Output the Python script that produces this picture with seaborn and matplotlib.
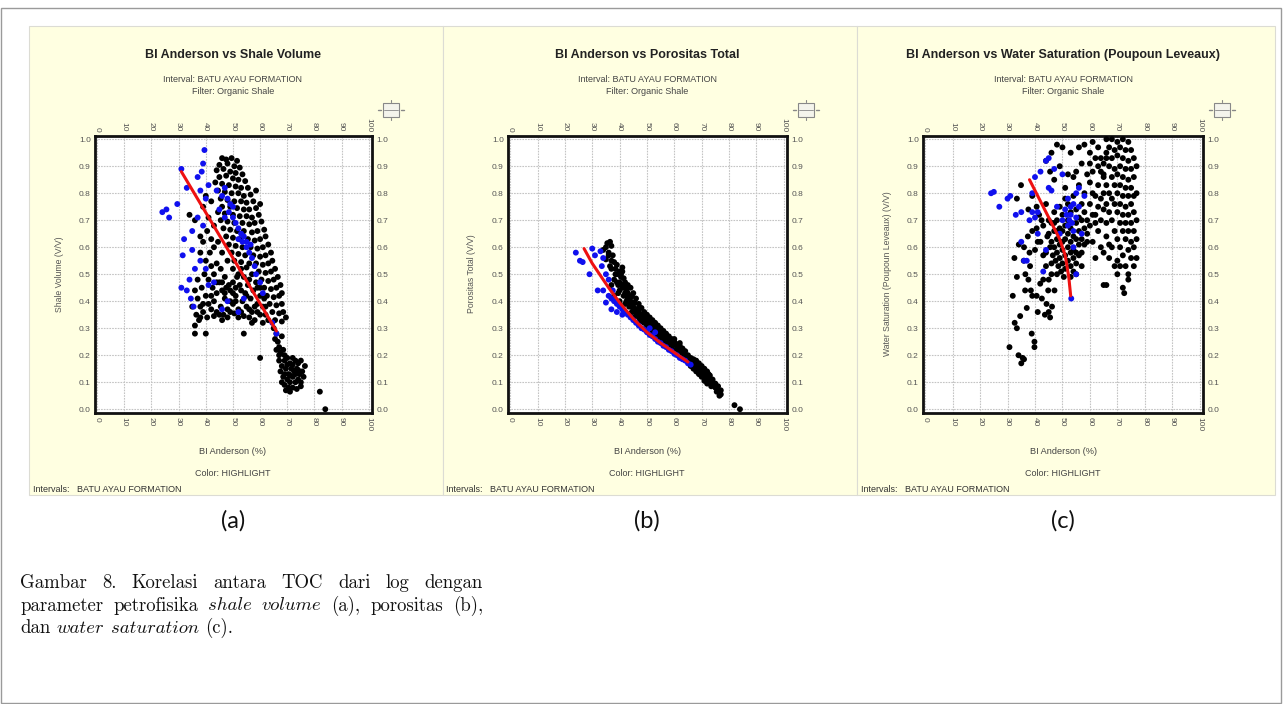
import pandas as pd
import matplotlib
matplotlib.use("Agg")
import matplotlib.pyplot as plt
import seaborn as sns
from matplotlib.patches import Rectangle
from matplotlib.lines import Line2D

# ---- data (x = BI Anderson %, y = V/V) ----
a_black = [
    (46, 0.93), (47.5, 0.925), (49.5, 0.93), (51.5, 0.92), (45, 0.905), (48, 0.91), (50.5, 0.90), (52.5, 0.895),
    (44, 0.885), (46.5, 0.89), (49, 0.88), (51, 0.875), (53.5, 0.87), (45, 0.86), (47.5, 0.865), (50, 0.855),
    (52, 0.85), (54.5, 0.845), (43.5, 0.84), (46, 0.835), (48.5, 0.83), (51, 0.825), (53, 0.82), (55.5, 0.82),
    (44.5, 0.81), (47, 0.805), (49.5, 0.80), (52, 0.80), (54, 0.79), (56.5, 0.795), (58.5, 0.81), (45.5, 0.78),
    (48, 0.775), (50.5, 0.77), (53, 0.77), (55, 0.765), (57.5, 0.77), (46, 0.75), (49, 0.75), (51.5, 0.745),
    (54, 0.74), (56, 0.74), (58.5, 0.745), (60, 0.76), (44.5, 0.73), (47, 0.725), (50, 0.72), (52.5, 0.715),
    (55, 0.715), (57, 0.71), (59.5, 0.72), (45.5, 0.70), (48, 0.695), (50.5, 0.69), (53.5, 0.69), (56, 0.685),
    (58, 0.69), (60.5, 0.695), (46.5, 0.67), (49, 0.665), (51.5, 0.66), (54, 0.66), (57, 0.655), (59, 0.66),
    (61.5, 0.665), (47.5, 0.64), (50, 0.635), (52.5, 0.63), (55.5, 0.63), (58, 0.625), (60, 0.63), (62, 0.64),
    (48.5, 0.61), (51, 0.605), (53.5, 0.60), (56.5, 0.60), (59, 0.595), (61, 0.60), (63, 0.61), (49.5, 0.58),
    (52, 0.575), (54.5, 0.57), (57.5, 0.57), (60, 0.565), (62, 0.57), (64, 0.58), (50.5, 0.55), (53, 0.545),
    (56, 0.54), (58.5, 0.54), (61, 0.535), (63, 0.54), (64.5, 0.55), (59.5, 0.51), (62, 0.505), (64, 0.51),
    (65.5, 0.52), (60.5, 0.48), (63, 0.475), (65, 0.48), (66.5, 0.49), (61.5, 0.45), (64, 0.445), (66, 0.45),
    (67.5, 0.46), (62.5, 0.42), (65, 0.415), (67, 0.42), (68, 0.43), (63.5, 0.39), (66, 0.385), (68, 0.39),
    (64.5, 0.36), (67, 0.355), (68.5, 0.36), (65.5, 0.33), (68, 0.325), (69.5, 0.34),
    (36, 0.44), (37, 0.41), (38, 0.38), (36.5, 0.35), (37.5, 0.33), (36, 0.31), (40, 0.42), (41, 0.39),
    (39, 0.36), (40.5, 0.34), (42, 0.37), (43, 0.40), (44, 0.43), (42.5, 0.45), (41, 0.48), (43, 0.50),
    (45, 0.47), (46, 0.44), (47, 0.41), (45.5, 0.38), (44, 0.36), (46.5, 0.35), (48, 0.37), (49, 0.40),
    (50, 0.43), (48.5, 0.46), (47, 0.49), (45.5, 0.52), (44, 0.54), (42, 0.53), (40, 0.55), (41.5, 0.58),
    (43, 0.60), (39, 0.62), (38, 0.58), (40.5, 0.66), (42, 0.63), (44.5, 0.62), (46, 0.58), (48, 0.55),
    (50, 0.52), (51.5, 0.49), (52.5, 0.46), (51, 0.42), (50, 0.39), (52, 0.37), (53.5, 0.40), (54.5, 0.43),
    (55.5, 0.46), (54, 0.49), (53, 0.52), (55, 0.38), (56.5, 0.41), (57.5, 0.44), (58.5, 0.47), (57, 0.36),
    (59, 0.39), (60, 0.42), (61, 0.38), (60, 0.35), (62, 0.35), (58, 0.33), (56, 0.34), (54, 0.345),
    (52, 0.34), (50.5, 0.355), (48, 0.34), (46, 0.33), (43, 0.345), (49, 0.44), (47.5, 0.45), (56, 0.48),
    (53, 0.44), (51, 0.45), (57, 0.50), (55, 0.525), (59, 0.45), (37, 0.48), (38.5, 0.45), (39.5, 0.50),
    (35, 0.38), (36, 0.28), (40, 0.28), (54, 0.28), (57, 0.32), (61, 0.32), (63, 0.33), (34, 0.72),
    (36, 0.70), (38, 0.64), (41, 0.71), (43, 0.68), (39, 0.75), (42, 0.77), (40, 0.79),
    (45, 0.35), (49, 0.36), (53, 0.36), (51, 0.40), (47, 0.43), (55, 0.42), (58, 0.38), (59, 0.36),
    (62, 0.38), (56, 0.37), (50, 0.47), (52, 0.50), (46, 0.47), (44, 0.47), (42, 0.42), (39, 0.39),
    (38, 0.34), (60, 0.45), (61.5, 0.41),
    (65, 0.30), (66, 0.28), (65.5, 0.26), (66.5, 0.25), (67, 0.23), (66, 0.22), (67.5, 0.21), (68, 0.27),
    (68.5, 0.22), (69, 0.20), (60, 0.19), (67, 0.18), (68, 0.16), (69, 0.18), (70, 0.19), (71, 0.17),
    (72, 0.19), (73, 0.18), (74, 0.17), (75, 0.18), (67.5, 0.14), (68.5, 0.12), (69.5, 0.15), (70.5, 0.13),
    (71.5, 0.15), (72.5, 0.14), (73.5, 0.15), (74.5, 0.13), (75.5, 0.14), (68, 0.10), (69, 0.09), (70, 0.11),
    (71, 0.10), (72, 0.12), (73, 0.10), (74, 0.11), (75, 0.10), (69.5, 0.07), (70.5, 0.08), (72, 0.08),
    (73.5, 0.075), (75, 0.085), (71, 0.065), (69, 0.13), (70, 0.165), (72, 0.165), (73, 0.13), (74, 0.145),
    (71, 0.125), (76, 0.12), (67, 0.20), (82, 0.065), (84, 0.0), (76.5, 0.16),
]
a_blue = [
    (39.5, 0.96), (31, 0.89), (38.5, 0.88), (39, 0.91), (24, 0.73), (25.5, 0.74), (26.5, 0.71), (29.5, 0.76),
    (35, 0.66), (32, 0.63), (31.5, 0.57), (35, 0.59), (31, 0.45), (34.5, 0.41), (35.5, 0.38), (33, 0.44),
    (36, 0.52), (34, 0.48), (33, 0.82), (37, 0.86), (38, 0.81), (40, 0.78), (41, 0.83), (37, 0.71),
    (39, 0.68), (38, 0.55), (40, 0.52), (41, 0.46), (44, 0.81), (46, 0.79), (47, 0.82), (48, 0.78),
    (49, 0.76), (48.5, 0.73), (50, 0.71), (51, 0.69), (52, 0.67), (53, 0.65), (53.5, 0.62), (55, 0.60),
    (54, 0.64), (56, 0.58), (57, 0.56), (58, 0.53), (58.5, 0.50), (60, 0.47), (50, 0.75), (47, 0.71),
    (45, 0.74), (52, 0.63), (48, 0.40), (52, 0.36), (54, 0.41), (61, 0.43), (66, 0.28), (64.5, 0.32),
    (46, 0.37), (43, 0.47), (55, 0.62), (56.5, 0.61),
]
a_fit_x = [31, 66]
a_fit_y = [0.88, 0.29]

b_black = [
    (35.5, 0.615), (35, 0.60), (34, 0.59), (36, 0.57), (35, 0.555), (37, 0.55), (36.5, 0.53), (38.5, 0.52),
    (39, 0.50), (38, 0.48), (40, 0.47), (39.5, 0.46), (41, 0.45), (40, 0.44), (42, 0.43), (41.5, 0.42),
    (43, 0.41), (42.5, 0.40), (44, 0.39), (43.5, 0.38), (45, 0.37), (44.5, 0.36), (46, 0.355), (47, 0.34),
    (46.5, 0.35), (48, 0.33), (49, 0.32), (48.5, 0.325), (50, 0.31), (51, 0.30), (50.5, 0.305), (52, 0.29),
    (53, 0.28), (52.5, 0.285), (54, 0.27), (55, 0.26), (54.5, 0.265), (56, 0.25), (57, 0.245), (58, 0.235),
    (57.5, 0.24), (59, 0.225), (60, 0.215), (59.5, 0.22), (61, 0.21), (62, 0.20), (61.5, 0.205), (63, 0.195),
    (64, 0.19), (63.5, 0.185), (65, 0.18), (66, 0.175), (65.5, 0.17), (67, 0.17), (68, 0.16), (67.5, 0.155),
    (69, 0.15), (70, 0.14), (69.5, 0.13), (71, 0.125), (72, 0.115), (71.5, 0.11), (73, 0.10), (74, 0.09),
    (73.5, 0.085), (75, 0.08), (76, 0.07), (75.5, 0.065), (77, 0.055), (76.5, 0.05), (66, 0.16), (67, 0.15),
    (68, 0.14), (69, 0.13), (70, 0.12), (71, 0.105), (72, 0.095), (66.5, 0.185), (67.5, 0.18), (68.5, 0.17),
    (69.5, 0.16), (70.5, 0.15), (71.5, 0.14), (72.5, 0.13), (60, 0.245), (56, 0.27), (52, 0.31), (48, 0.35),
    (44, 0.40), (40.5, 0.49), (41, 0.51), (39.5, 0.43), (37, 0.46), (45, 0.38), (47, 0.36), (49, 0.34),
    (51, 0.32), (53, 0.30), (55, 0.28), (57, 0.265), (59, 0.245), (61, 0.225), (63, 0.21), (64, 0.20),
    (58, 0.25), (62, 0.215), (54, 0.29), (50, 0.33), (46, 0.37), (42, 0.45), (43, 0.43), (44.5, 0.42),
    (40, 0.40), (42, 0.39), (38, 0.42), (45, 0.34), (47, 0.32), (60, 0.24), (82, 0.015), (84, 0.0),
    (36.5, 0.62), (37, 0.605), (36, 0.58), (37.5, 0.57), (38, 0.545), (37, 0.52), (39, 0.535), (40, 0.51),
    (41, 0.525), (40.5, 0.50), (41.5, 0.485), (42, 0.47), (43, 0.46), (42.5, 0.44), (44, 0.45), (45, 0.43),
    (44, 0.415), (46, 0.41), (45.5, 0.395), (47, 0.39), (48, 0.375), (49, 0.36), (50, 0.35), (51, 0.34),
    (52, 0.33), (53, 0.32), (54, 0.31), (55, 0.30), (56, 0.29), (57, 0.28), (58, 0.27), (59, 0.26),
    (60, 0.25), (61, 0.24), (62, 0.235), (63, 0.225), (64, 0.215), (60, 0.26), (62, 0.245), (38.5, 0.50),
    (39, 0.47), (41, 0.46), (43, 0.42), (47, 0.375), (49, 0.35), (51, 0.33), (53, 0.31), (55, 0.29),
    (57, 0.275), (59, 0.255), (61, 0.235), (63, 0.22), (65, 0.20), (66, 0.19), (67, 0.185), (68, 0.18),
    (69, 0.17), (70, 0.16), (71, 0.15), (72, 0.14), (73, 0.125), (74, 0.11), (75, 0.095), (76, 0.085),
    (77, 0.07), (73, 0.115), (74, 0.10), (75, 0.09),
]
b_blue = [
    (24, 0.58), (25.5, 0.55), (26.5, 0.545), (29, 0.50), (30, 0.595), (31, 0.57), (33, 0.585), (34, 0.56),
    (33.5, 0.53), (35, 0.50), (32, 0.44), (34, 0.44), (36, 0.42), (37, 0.41), (38, 0.40), (39, 0.39),
    (40, 0.38), (41, 0.37), (42, 0.36), (43, 0.35), (44, 0.34), (45, 0.33), (46, 0.32), (47, 0.31),
    (48, 0.30), (49, 0.295), (50, 0.285), (51, 0.275), (52, 0.27), (53, 0.26), (54, 0.25), (55, 0.245),
    (56, 0.235), (57, 0.23), (58, 0.22), (59, 0.215), (60, 0.205), (61, 0.20), (62, 0.19), (63, 0.185),
    (64, 0.18), (65, 0.17), (66, 0.165), (36, 0.48), (37, 0.37), (39, 0.36), (41, 0.35), (37.5, 0.44),
    (35, 0.395), (53, 0.285), (51, 0.30),
]
b_fit_x = [27, 30, 33, 36, 40, 45, 50, 55, 60, 65]
b_fit_y = [0.595, 0.54, 0.495, 0.45, 0.395, 0.335, 0.285, 0.245, 0.21, 0.175]

c_black = [
    (30.7, 0.23), (35, 0.17), (34, 0.20), (35.5, 0.19), (36, 0.185), (32.6, 0.32), (33.4, 0.30), (31.9, 0.42),
    (33.4, 0.49), (34.6, 0.345), (38.8, 0.28), (39.8, 0.25), (39.8, 0.23), (37, 0.375), (36.4, 0.44),
    (37.6, 0.48), (40.6, 0.42), (41, 0.36), (43.6, 0.35), (44.2, 0.39), (44.8, 0.44), (41.9, 0.465),
    (46.2, 0.38), (47.1, 0.44), (34.1, 0.61), (35.9, 0.55), (38.2, 0.53), (40, 0.59), (37.4, 0.64),
    (40.6, 0.67), (42.4, 0.70), (34.9, 0.83), (37.6, 0.74), (33.4, 0.78), (40.6, 0.75), (36, 0.60),
    (38, 0.58), (39, 0.66), (43, 0.57), (42, 0.62), (44, 0.53), (45, 0.36), (45.5, 0.34), (42.5, 0.41),
    (39, 0.42), (36.5, 0.50), (38.5, 0.44), (43, 0.48), (46, 0.50), (45, 0.48), (39, 0.79), (41.5, 0.72),
    (44, 0.76), (43, 0.68), (41, 0.62), (32.5, 0.56), (44, 0.92), (46, 0.95), (48, 0.98), (45.5, 0.88),
    (49, 0.90), (47, 0.85),
    (45, 0.65), (46, 0.62), (47, 0.60), (48, 0.58), (49, 0.56), (50, 0.54), (51, 0.52), (46.5, 0.57),
    (47.5, 0.55), (48.5, 0.53), (49.5, 0.51), (50.5, 0.49), (45.5, 0.60), (47, 0.66), (48, 0.63), (49, 0.61),
    (50, 0.59), (51, 0.57), (52, 0.55), (53, 0.53), (46, 0.69), (48, 0.70), (50, 0.66), (51, 0.63),
    (52, 0.60), (53, 0.58), (54, 0.56), (55, 0.54), (54, 0.51), (53, 0.49), (55, 0.58), (56, 0.61),
    (54, 0.64), (53, 0.67), (52, 0.70), (50, 0.72), (49, 0.75), (51, 0.78), (53, 0.73), (55, 0.69),
    (56, 0.66), (57, 0.63), (56, 0.57), (55, 0.50), (48, 0.50), (46, 0.54), (44, 0.58), (44.5, 0.64),
    (45, 0.70), (47, 0.73), (52, 0.76), (54, 0.79), (55, 0.74), (57, 0.70), (58, 0.67), (57, 0.58),
    (58, 0.61), (49, 0.67), (51, 0.68), (53, 0.62), (54, 0.59), (52, 0.65), (50, 0.62), (48, 0.66),
    (47, 0.69), (55, 0.63), (56, 0.71), (58, 0.73), (59, 0.70), (57, 0.76), (58, 0.80), (56, 0.83),
    (54, 0.86), (55, 0.88), (57, 0.91), (59, 0.87), (60, 0.84), (61, 0.80), (60, 0.76), (61, 0.72),
    (59, 0.65), (60, 0.68), (62, 0.69), (63, 0.75), (62, 0.79), (63, 0.83), (61, 0.88), (62, 0.93),
    (60, 0.95), (58, 0.98), (61, 0.99), (63, 0.97), (64, 0.93), (64, 0.88), (65, 0.86), (63, 0.90),
    (65, 0.91), (66, 0.95), (56, 0.97), (53, 0.95), (50, 0.97), (60, 0.91), (62, 0.72), (64, 0.70),
    (63, 0.66), (61, 0.62), (65, 0.58), (67, 0.61), (62, 0.56), (66, 0.46), (59, 0.62), (57, 0.53),
    (52, 0.87), (51, 0.82),
    (66, 1.0), (68, 1.0), (70, 0.99), (72, 1.0), (74, 0.99), (67, 0.97), (69, 0.96), (71, 0.97),
    (73, 0.96), (75, 0.96), (66, 0.93), (68, 0.93), (70, 0.94), (72, 0.93), (74, 0.92), (76, 0.93),
    (67, 0.90), (69, 0.89), (71, 0.90), (73, 0.89), (75, 0.89), (65, 0.87), (68, 0.86), (70, 0.87),
    (72, 0.86), (74, 0.85), (76, 0.86), (66, 0.83), (69, 0.83), (71, 0.83), (73, 0.82), (75, 0.82),
    (67, 0.80), (68, 0.78), (70, 0.80), (72, 0.79), (74, 0.79), (76, 0.79), (66, 0.76), (69, 0.76),
    (71, 0.76), (73, 0.75), (75, 0.76), (67, 0.73), (70, 0.73), (72, 0.72), (74, 0.72), (76, 0.73),
    (68, 0.70), (71, 0.69), (73, 0.69), (75, 0.69), (69, 0.66), (72, 0.66), (74, 0.66), (76, 0.66),
    (70, 0.63), (73, 0.63), (75, 0.62), (71, 0.60), (74, 0.59), (76, 0.60), (72, 0.57), (75, 0.56),
    (77, 0.56), (70, 0.55), (73, 0.53), (74, 0.50), (71, 0.53), (69, 0.53), (70, 0.50), (74, 0.48),
    (72, 0.45), (72.5, 0.43), (65, 0.46), (68, 0.60), (67, 0.56), (66, 0.64), (64, 0.60), (77, 0.70),
    (77, 0.80), (77, 0.90), (65, 0.80), (64, 0.78), (65, 0.74), (66, 0.69), (77, 0.63), (76, 0.53),
]
c_blue = [
    (24, 0.80), (25, 0.805), (27, 0.75), (30, 0.78), (31, 0.79), (33, 0.72), (35, 0.73), (35, 0.62),
    (36, 0.55), (37, 0.55), (38, 0.70), (39, 0.80), (40, 0.86), (40, 0.71), (41, 0.65), (42, 0.88),
    (44, 0.92), (45, 0.93), (45, 0.82), (46, 0.81), (47, 0.89), (48, 0.75), (50, 0.87), (50, 0.70),
    (51, 0.74), (52, 0.68), (52, 0.78), (53, 0.72), (54, 0.66), (54, 0.60), (55, 0.80), (56, 0.75),
    (57, 0.65), (55, 0.50), (53.2, 0.41), (43, 0.51), (44, 0.59), (49, 0.65), (56, 0.82), (58, 0.79),
    (54, 0.76), (52.5, 0.70), (53.5, 0.69), (51.5, 0.72), (55, 0.71), (53, 0.75), (41, 0.73), (39, 0.73),
]
c_fit_x = [38, 41, 43.5, 46, 49, 51, 52.3, 53]
c_fit_y = [0.85, 0.79, 0.74, 0.69, 0.63, 0.57, 0.49, 0.42]

titles = ["BI Anderson vs Shale Volume", "BI Anderson vs Porositas Total",
          "BI Anderson vs Water Saturation (Poupoun Leveaux)"]
ylabels = ["Shale Volume (V/V)", "Porositas Total (V/V)", "Water Saturation (Poupoun Leveaux) (V/V)"]
panel_tags = ["(a)", "(b)", "(c)"]
x_ticks = [0, 10, 20, 30, 40, 50, 60, 70, 80, 90, 100]
y_ticks = [0.0, 0.1, 0.2, 0.3, 0.4, 0.5, 0.6, 0.7, 0.8, 0.9, 1.0]

W, H = 1283, 704


def fx(px):
    return px / W


def fy(py):
    return 1 - py / H


sns.set_style("white")
plt.rcParams['font.family'] = ['Liberation Sans', 'DejaVu Sans']

fig = plt.figure(figsize=(W / 100, H / 100), dpi=100)
fig.patch.set_facecolor("white")

# outer frame of the page and the cream plot panels (behind the axes)
fig.add_artist(Rectangle((fx(1), fy(703)), fx(1280), 695 / H, transform=fig.transFigure,
                         facecolor="none", edgecolor="#9a9a9a", lw=1.0, zorder=-5))
for left, right in [(29, 443), (443, 857), (857, 1275)]:
    fig.add_artist(Rectangle((fx(left), fy(495)), (right - left) / W, 469 / H, transform=fig.transFigure,
                             facecolor="#FFFFE1", edgecolor="#dcdcd4", lw=0.8, zorder=-5))

panels = [
    (a_black, a_blue, a_fit_x, a_fit_y, 95, 277, 233),
    (b_black, b_blue, b_fit_x, b_fit_y, 508, 279, 647),
    (c_black, c_blue, c_fit_x, c_fit_y, 923, 280, 1063),
]

for i, (blk, blu, fit_x, fit_y, left, width, cx) in enumerate(panels):
    ax = fig.add_axes([fx(left), fy(413), width / W, 277 / H])
    df = pd.DataFrame(blk + blu, columns=["x", "y"])
    df["grp"] = ["other"] * len(blk) + ["highlight"] * len(blu)
    sns.scatterplot(data=df, x="x", y="y", hue="grp", palette={"other": "black", "highlight": "#1010ee"},
                    s=18, linewidth=0, legend=False, ax=ax, zorder=3)
    sns.lineplot(x=fit_x, y=fit_y, color="#ee1111", lw=2.2, ax=ax, zorder=4, sort=False)

    ax.set_xlim(-0.8, 101.2)
    ax.set_ylim(-0.014, 1.012)
    ax.set_xticks(x_ticks, labels=[str(t) for t in x_ticks], rotation=270)
    ax.set_yticks(y_ticks, labels=[f"{t:.1f}" for t in y_ticks])
    ax.tick_params(labelsize=6, labelcolor="#555555", length=0, pad=3,
                   top=True, right=True, labeltop=True, labelright=True)
    ax.grid(True, color="#c4c4c4", linestyle=(0, (1.5, 1)), lw=0.8)
    ax.set_facecolor("white")
    for sp in ax.spines.values():
        sp.set_color("#111111")
        sp.set_linewidth(2)
    ax.set_xlabel("")
    ax.set_ylabel("")

    # texts around each plot
    fig.text(fx(cx), fy(55), titles[i], ha="center", va="center", fontsize=9, fontweight="bold", color="#222222")
    fig.text(fx(cx), fy(80), "Interval: BATU AYAU FORMATION", ha="center", va="center", fontsize=6.5, color="#444444")
    fig.text(fx(cx), fy(91), "Filter: Organic Shale", ha="center", va="center", fontsize=6.5, color="#444444")
    fig.text(fx(cx), fy(451), "BI Anderson (%)", ha="center", va="center", fontsize=6.6, color="#444444")
    fig.text(fx(cx), fy(474), "Color: HIGHLIGHT", ha="center", va="center", fontsize=6.5, color="#444444")
    fig.text(fx(left - 62), fy(489), "Intervals:   BATU AYAU FORMATION", ha="left", va="center",
             fontsize=6.5, color="#333333")
    fig.text(fx(left - 36), fy(274), ylabels[i], ha="center", va="center", rotation=90,
             fontsize=6.2, color="#555555")
    fig.text(fx(cx), fy(521), panel_tags[i], ha="center", va="center", fontsize=17,
             family=["Lato", "DejaVu Sans"], color="#111111")

    # small zoom widget at the top right of each plot
    wx, wy = left + width + 19, 110
    fig.add_artist(Rectangle((fx(wx - 8), fy(wy + 7)), 16 / W, 14 / H, transform=fig.transFigure,
                             facecolor="#f4f4ec", edgecolor="#888888", lw=0.8))
    fig.add_artist(Line2D([fx(wx - 7), fx(wx + 7)], [fy(wy), fy(wy)], transform=fig.transFigure,
                          color="#888888", lw=0.6))
    for dx in (-13, 10):
        fig.add_artist(Line2D([fx(wx + dx), fx(wx + dx + 3)], [fy(wy), fy(wy)], transform=fig.transFigure,
                              color="#888888", lw=1.0))
    for dy in (-10, 8):
        fig.add_artist(Line2D([fx(wx), fx(wx)], [fy(wy + dy), fy(wy + dy + 2)], transform=fig.transFigure,
                              color="#888888", lw=0.8))

# caption, set as justified lines like the typeset original
roman = dict(family=["cmr10", "DejaVu Serif"], fontsize=13.5, color="#111111")
italic = dict(family=["cmmi10", "DejaVu Serif"], fontsize=13.5, color="#111111")
caption_lines = [
    ([("Gambar", 0), ("8.", 0), ("Korelasi", 0), ("antara", 0), ("TOC", 0), ("dari", 0), ("log", 0),
      ("dengan", 0)], True),
    ([("parameter", 0), ("petrofisika", 0), ("shale", 1), ("volume", 1), ("(a),", 0), ("porositas", 0),
      ("(b),", 0)], True),
    ([("dan", 0), ("water", 1), ("saturation", 1), ("(c).", 0)], False),
]
renderer = fig.canvas.get_renderer()
x0, x1 = 20, 483
for row, (words, justify) in enumerate(caption_lines):
    ypx = 583 + row * 22.7
    items = []
    for w, it in words:
        t = fig.text(0, fy(ypx), w, ha="left", va="center", **(italic if it else roman))
        items.append(t)
    widths = [t.get_window_extent(renderer).width for t in items]
    if justify:
        gap = (x1 - x0 - sum(widths)) / (len(items) - 1)
    else:
        gap = 6.5
    xp = x0
    for t, wdt in zip(items, widths):
        t.set_x(fx(xp))
        xp += wdt + gap

fig.savefig("out.png", dpi=100, facecolor="white")
